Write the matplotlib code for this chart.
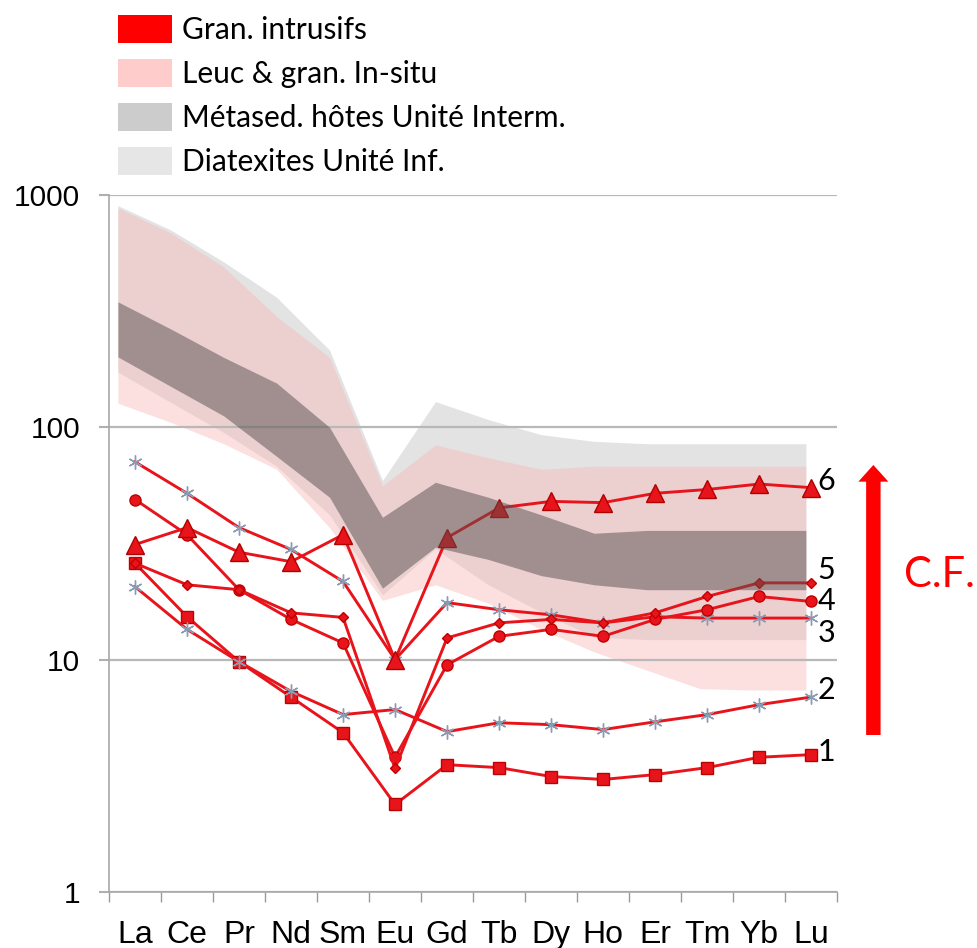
import matplotlib
matplotlib.use("Agg")
import matplotlib.pyplot as plt
import matplotlib.ticker as ticker
from matplotlib import font_manager
from matplotlib.patches import Patch
import numpy as np

# ── Data ──────────────────────────────────────────────────────────────────────
elements = ["La", "Ce", "Pr", "Nd", "Sm", "Eu", "Gd", "Tb", "Dy", "Ho", "Er", "Tm", "Yb", "Lu"]

# granite samples (chondrite normalised), numbered 1..6 as on the chart
s1 = [26, 15.3, 9.8, 6.9, 4.85, 2.38, 3.53, 3.43, 3.14, 3.05, 3.2, 3.43, 3.8, 3.9]
s2 = [20.6, 13.5, 9.8, 7.3, 5.8, 6.1, 4.9, 5.35, 5.25, 5.0, 5.4, 5.8, 6.4, 6.9]
s3 = [71, 52, 37, 29.8, 21.7, 10, 17.6, 16.4, 15.6, 14.4, 15.3, 15.1, 15.1, 15.1]
s4 = [48.9, 34.5, 20, 14.9, 11.8, 3.8, 9.5, 12.6, 13.5, 12.6, 14.9, 16.4, 18.7, 17.8]
s5 = [26, 21, 20, 15.9, 15.2, 3.4, 12.4, 14.4, 14.9, 14.4, 15.9, 18.7, 21.4, 21.4]
s6 = [31.3, 37, 29, 26.4, 34.5, 10, 33.5, 45, 48, 47.4, 52, 54, 57, 55]
series_labels = ["1", "2", "3", "4", "5", "6"]
label_y = [4.0, 7.4, 13.0, 17.9, 24.3, 59]

# envelope fields (lower / upper)
band_x = np.linspace(-0.33, 12.9, 14)
diat_lo = [173, 128, 95, 68, 42, 19, 30, 21, 16, 12.5, 12.2, 12.2, 12.2, 12.2]
diat_hi = [900, 707, 515, 363, 215, 59, 129, 108, 93, 87, 85, 85, 85, 85]
leuc_lo = [127, 105, 85, 66, 37, 18, 21, 17.5, 13.5, 10.8, 9, 7.5, 7.4, 7.4]
leuc_hi = [880, 686, 490, 300, 200, 56, 84, 74, 66, 68, 68, 68, 68, 68]
meta_lo = [201, 150, 112, 75, 50, 20.3, 30.5, 27, 23, 21, 20, 20, 20, 20]
meta_hi = [347, 265, 200, 155, 100, 41, 58, 50, 42, 35, 36, 36, 36, 36]

legend_labels = ["Gran. intrusifs", "Leuc & gran. In-situ",
                 "Métased. hôtes Unité Interm.", "Diatexites Unité Inf."]
legend_colors = ["#ff0000", "#ffcccc", "#cccccc", "#e6e6e6"]

RED = "#e8141b"
STAR = "#8a9bb4"


def pick(names):
    for n in names:
        try:
            font_manager.findfont(n, fallback_to_default=False)
            return n
        except ValueError:
            pass
    return "DejaVu Sans"


NARROW = [pick(["Liberation Sans Narrow", "Lato"]), "DejaVu Sans"]
plt.rcParams["font.family"] = [pick(["Liberation Sans", "Arimo"]), "DejaVu Sans"]

# ── Figure ────────────────────────────────────────────────────────────────────
fig = plt.figure(figsize=(9.78, 9.48), dpi=100)
ax = fig.add_axes([0.1115, 0.0591, 0.7444, 0.7352])
x = np.arange(len(elements))

ax.fill_between(band_x, diat_lo, diat_hi, color="#e3e3e3", lw=0, zorder=1)
ax.fill_between(band_x, leuc_lo, leuc_hi, color="#f9b9b9", alpha=0.45, lw=0, zorder=1.2)

star = (6, 2, 0)
styles = [
    dict(marker="s", ms=8, mfc=RED, mec="#c00000"),
    dict(marker=star, ms=10, mfc=STAR, mec=STAR, mew=1),
    dict(marker=star, ms=10, mfc=STAR, mec=STAR, mew=1),
    dict(marker="o", ms=8, mfc=RED, mec="#c00000"),
    dict(marker="D", ms=5, mfc=RED, mec="#c00000"),
    dict(marker="^", ms=13, mfc=RED, mec="#b00000"),
]
for ys, st in zip([s1, s2, s3, s4, s5, s6], styles):
    ax.plot(x, ys, color=RED, lw=2.1, zorder=2, **st)

ax.fill_between(band_x, meta_lo, meta_hi, color="#574e4e", alpha=0.5, lw=0, zorder=3)

for lab, yv in zip(series_labels, label_y):
    ax.text(13.12, yv, lab, fontsize=22, family=NARROW, ha="left", va="center",
            zorder=5, clip_on=False)

# ── Axes styling ──────────────────────────────────────────────────────────────
ax.set_yscale("log")
ax.set_ylim(1, 1000)
ax.set_xlim(-0.5, 13.5)
ax.set_yticks([1, 10, 100, 1000])
ax.yaxis.set_major_formatter(ticker.FuncFormatter(lambda v, p: f"{v:g}"))
ax.yaxis.set_minor_locator(ticker.NullLocator())
ax.set_xticks(x)
ax.set_xticklabels(elements)
ax.set_xticks(np.arange(-0.5, 14, 1), minor=True)
ax.tick_params(axis="x", which="major", length=0, pad=20, labelsize=23)
ax.tick_params(axis="x", which="minor", length=7, color="#9a9a9a", width=1)
ax.tick_params(axis="y", which="major", length=7, color="#b0b0b0", width=1.5,
               pad=14, labelsize=21.5)
ax.grid(axis="y", which="major", color="#b8b8b8", lw=1.6)
ax.set_axisbelow("line")
for side in ["top", "right"]:
    ax.spines[side].set_visible(False)
for side in ["left", "bottom"]:
    ax.spines[side].set_color("#a8a8a8")
    ax.spines[side].set_linewidth(1.2)

# ── Legend ────────────────────────────────────────────────────────────────────
handles = [Patch(facecolor=c, edgecolor="none") for c in legend_colors]
fig.legend(handles, legend_labels, loc="upper left",
           bbox_to_anchor=(118 / 978, 1 - 15 / 948), frameon=False,
           prop=dict(family=NARROW, size=21.5), handlelength=1.8, handleheight=1.05,
           handletextpad=0.36, labelspacing=0.5, borderpad=0, borderaxespad=0)

# ── Fractional crystallisation arrow ──────────────────────────────────────────
ax.annotate("", xy=(0.893, 0.5095), xytext=(0.893, 0.2247),
            xycoords="figure fraction", textcoords="figure fraction",
            arrowprops=dict(arrowstyle="simple,head_width=1.08,head_length=0.6,tail_width=0.52",
                            mutation_scale=20, color="#ff0000", lw=0,
                            shrinkA=0, shrinkB=0),
            annotation_clip=False)
fig.text(904 / 978, 1 - 575 / 948, "C.F.", color="#ff0000", fontsize=30,
         family=NARROW, ha="left", va="center")

fig.savefig("out.png", dpi=100)
